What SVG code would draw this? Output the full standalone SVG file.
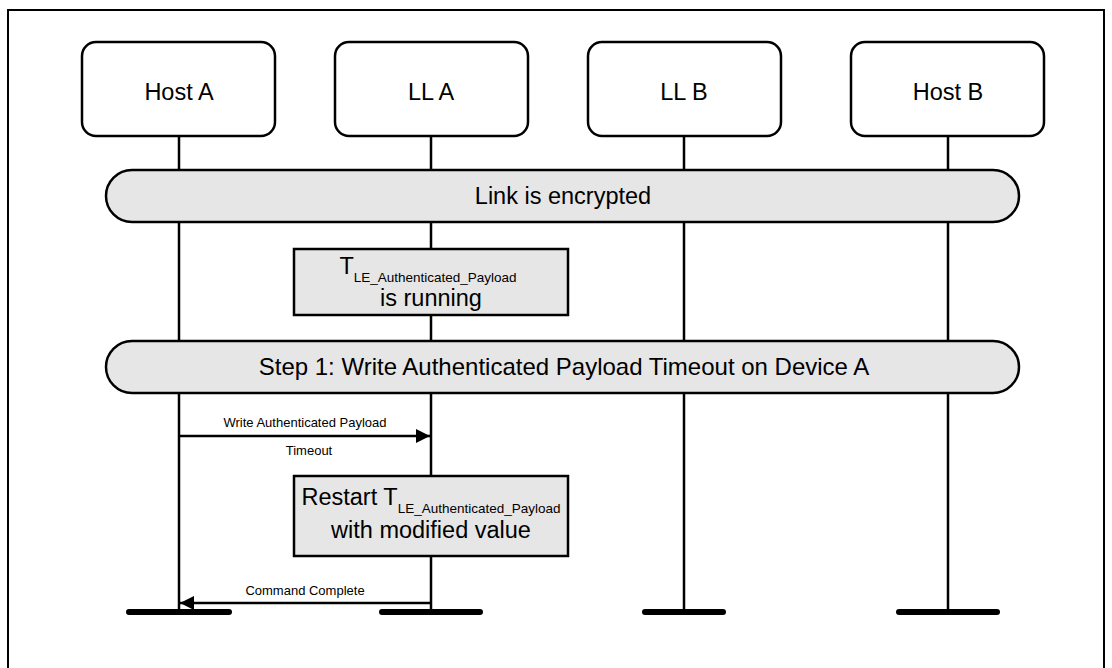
<svg xmlns="http://www.w3.org/2000/svg" width="1112" height="668" viewBox="0 0 1112 668">
<defs>
<style>
.frame{fill:#fff;stroke:#000;stroke-width:2}
.node{fill:#fff;stroke:#000;stroke-width:2.5}
.bar{fill:#e6e6e6;stroke:#000;stroke-width:2.5}
.box{fill:#e6e6e6;stroke:#000;stroke-width:2.5}
.life{stroke:#000;stroke-width:2.5;fill:none}
.end{stroke:#000;stroke-width:6;stroke-linecap:round}
.msg{stroke:#000;stroke-width:2.5;fill:none}
.t{font-family:"Liberation Sans",Arial,sans-serif;font-size:23.5px;fill:#000;text-anchor:middle}
.s{font-family:"Liberation Sans",Arial,sans-serif;font-size:13px;fill:#000;text-anchor:middle}
.sub{font-size:13.5px}
</style>
<marker id="ah" viewBox="0 0 10 10" refX="10" refY="5" markerWidth="16" markerHeight="14" markerUnits="userSpaceOnUse" orient="auto">
<path d="M0,0 L10,5 L0,10 z" fill="#000"/>
</marker>
</defs>
<rect class="frame" x="8" y="10" width="1096" height="670"/>
<g id="lifelines">
<line class="life" x1="179" y1="136" x2="179" y2="612"/>
<line class="life" x1="431" y1="136" x2="431" y2="612"/>
<line class="life" x1="684" y1="136" x2="684" y2="612"/>
<line class="life" x1="948" y1="136" x2="948" y2="612"/>
<line class="end" x1="129" y1="612" x2="229" y2="612"/>
<line class="end" x1="382" y1="612" x2="480" y2="612"/>
<line class="end" x1="645" y1="612" x2="723" y2="612"/>
<line class="end" x1="899" y1="612" x2="997" y2="612"/>
</g>
<g id="hostA"><rect class="node" x="82" y="42" width="193" height="94" rx="14"/><text class="t" x="179" y="100">Host A</text></g>
<g id="llA"><rect class="node" x="335" y="42" width="193" height="94" rx="14"/><text class="t" x="431" y="100">LL A</text></g>
<g id="llB"><rect class="node" x="588" y="42" width="193" height="94" rx="14"/><text class="t" x="684" y="100">LL B</text></g>
<g id="hostB"><rect class="node" x="851" y="42" width="193" height="94" rx="14"/><text class="t" x="948" y="100">Host B</text></g>
<g id="encrypted"><rect class="bar" x="106" y="170" width="913" height="52" rx="26"/><text class="t" x="563" y="204">Link is encrypted</text></g>
<g id="timer"><rect class="box" x="294" y="249" width="274" height="66"/><text class="t" x="428" y="274">T<tspan class="sub" dy="8">LE_Authenticated_Payload</tspan></text><text class="t" x="431" y="306">is running</text></g>
<g id="step1"><rect class="bar" x="106" y="341" width="913" height="52" rx="26"/><text class="t" x="564" y="375" style="font-size:24px">Step 1: Write Authenticated Payload Timeout on Device A</text></g>
<g id="restart"><rect class="box" x="294" y="476" width="274" height="80"/><text class="t" x="431" y="505">Restart T<tspan class="sub" dy="8">LE_Authenticated_Payload</tspan></text><text class="t" x="431" y="538">with modified value</text></g>
<g id="connectors">
<line class="msg" x1="179" y1="436" x2="430" y2="436" marker-end="url(#ah)"/>
<text class="s" x="305" y="427">Write Authenticated Payload</text>
<text class="s" x="309" y="455">Timeout</text>
<line class="msg" x1="431" y1="603" x2="180" y2="603" marker-end="url(#ah)"/>
<text class="s" x="305" y="595">Command Complete</text>
</g>
</svg>
